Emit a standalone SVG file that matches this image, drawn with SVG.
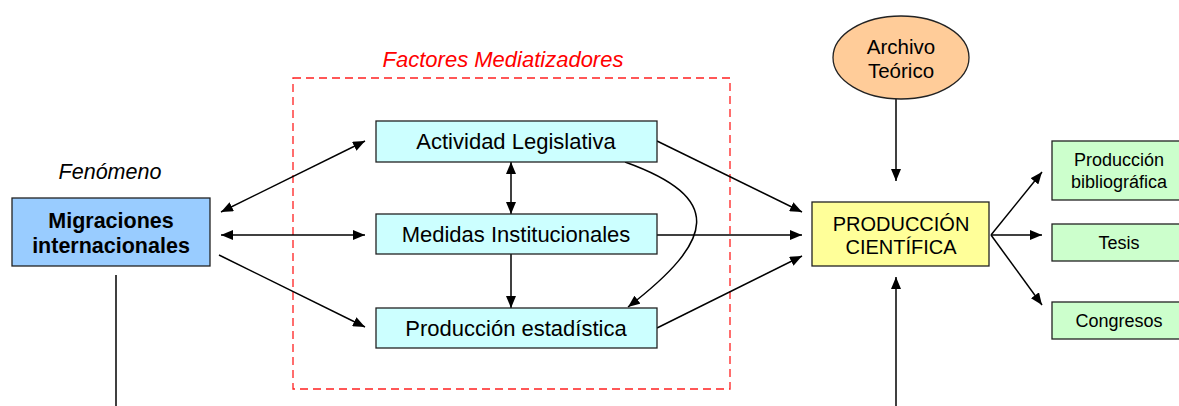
<svg xmlns="http://www.w3.org/2000/svg" width="1179" height="406" viewBox="0 0 1179 406">
<style>
text{font-family:"Liberation Sans",Arial,sans-serif;fill:#000;text-anchor:middle}
.box{stroke:#222;stroke-width:1.3}
.mid{fill:#ccffff}
.out{fill:#ccffcc}
.c{stroke:#000;stroke-width:1.5;fill:none}
.m{font-size:22px}
.g{font-size:18px}
</style>
<defs>
<marker id="ah" viewBox="0 0 12 10" refX="12" refY="5" markerWidth="12" markerHeight="10" markerUnits="userSpaceOnUse" orient="auto-start-reverse">
<path d="M0,0 L12,5 L0,10 Z" fill="#000"/>
</marker>
</defs>
<rect x="293" y="78" width="437" height="311" fill="none" stroke="#ff2020" stroke-width="1.3" stroke-dasharray="8,5"/>
<text x="503" y="67" font-size="22" font-style="italic" style="fill:#ff0000">Factores Mediatizadores</text>
<text x="110" y="179" font-size="21.5" font-style="italic">Fenómeno</text>
<g id="connectors">
<line class="c" x1="221" y1="212" x2="365" y2="141" marker-start="url(#ah)" marker-end="url(#ah)"/>
<line class="c" x1="221" y1="235" x2="365" y2="235" marker-start="url(#ah)" marker-end="url(#ah)"/>
<line class="c" x1="219" y1="255" x2="365" y2="327" marker-end="url(#ah)"/>
<line class="c" x1="116" y1="275" x2="116" y2="406"/>
<line class="c" x1="511" y1="162" x2="511" y2="214" marker-start="url(#ah)" marker-end="url(#ah)"/>
<line class="c" x1="511" y1="254" x2="511" y2="308" marker-end="url(#ah)"/>
<path class="c" d="M625,162 C725,198 715,240 628,307" marker-end="url(#ah)"/>
<line class="c" x1="657" y1="141" x2="802" y2="212" marker-end="url(#ah)"/>
<line class="c" x1="657" y1="235" x2="802" y2="235" marker-end="url(#ah)"/>
<line class="c" x1="657" y1="328" x2="802" y2="256" marker-end="url(#ah)"/>
<line class="c" x1="896" y1="99" x2="896" y2="181" marker-end="url(#ah)"/>
<line class="c" x1="896" y1="406" x2="896" y2="277" marker-end="url(#ah)"/>
<line class="c" x1="991" y1="235" x2="1042" y2="172" marker-end="url(#ah)"/>
<line class="c" x1="991" y1="235" x2="1042" y2="235" marker-end="url(#ah)"/>
<line class="c" x1="991" y1="235" x2="1042" y2="305" marker-end="url(#ah)"/>
</g>
<g id="migraciones">
<rect class="box" x="12" y="198" width="198" height="68" fill="#99ccff"/>
<text x="111" y="228" font-size="21.5" font-weight="bold">Migraciones</text>
<text x="111" y="253" font-size="21.5" font-weight="bold">internacionales</text>
</g>
<g id="actividad">
<rect class="box mid" x="376" y="121" width="281" height="41"/>
<text class="m" x="516" y="149">Actividad Legislativa</text>
</g>
<g id="medidas">
<rect class="box mid" x="376" y="214" width="281" height="40"/>
<text class="m" x="516" y="242">Medidas Institucionales</text>
</g>
<g id="estadistica">
<rect class="box mid" x="376" y="308" width="281" height="40"/>
<text class="m" x="516" y="336">Producción estadística</text>
</g>
<g id="archivo">
<ellipse class="box" cx="901" cy="57.5" rx="68" ry="41.5" fill="#ffcc99"/>
<text x="901" y="54" font-size="20.5">Archivo</text>
<text x="901" y="78" font-size="20.5">Teórico</text>
</g>
<g id="produccion">
<rect class="box" x="812" y="202" width="177" height="64" fill="#ffff99"/>
<text x="901" y="231" font-size="20">PRODUCCIÓN</text>
<text x="901" y="254" font-size="20">CIENTÍFICA</text>
</g>
<g id="bibliografica">
<rect class="box out" x="1052" y="141" width="134" height="59"/>
<text class="g" x="1119" y="166">Producción</text>
<text class="g" x="1119" y="188">bibliográfica</text>
</g>
<g id="tesis">
<rect class="box out" x="1052" y="224" width="134" height="37"/>
<text class="g" x="1119" y="249">Tesis</text>
</g>
<g id="congresos">
<rect class="box out" x="1052" y="302" width="134" height="37"/>
<text class="g" x="1119" y="327">Congresos</text>
</g>
</svg>
